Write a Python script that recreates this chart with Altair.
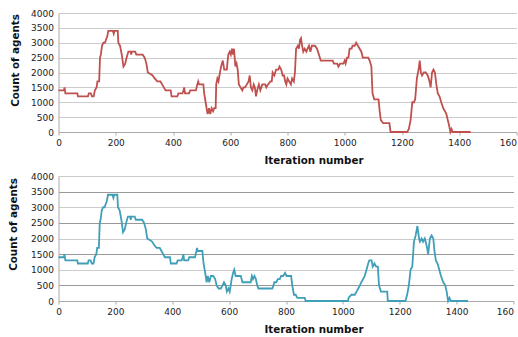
import altair as alt
import pandas as pd

# ---- data ----
top_x = [0, 19, 21, 24, 66, 68, 103, 106, 113, 117, 123, 127, 133, 136, 142, 145, 148, 152, 157, 162,
         166, 170, 174, 190, 193, 196, 207, 209, 215, 221, 227, 233, 238, 244, 252, 254, 256, 268, 272, 294,
         301, 307, 312, 321, 329, 336, 345, 356, 362, 368, 374, 392, 395, 415, 419, 433, 437, 439, 442, 456,
         460, 480, 485, 488, 491, 506, 509, 514, 519, 521, 526, 530, 535, 540, 544, 549, 551, 555, 559, 564,
         568, 574, 579, 588, 593, 598, 602, 606, 610, 613, 618, 622, 626, 630, 636, 642, 646, 652, 658, 664,
         668, 672, 677, 682, 686, 690, 694, 700, 705, 712, 722, 726, 732, 740, 745, 748, 754, 760, 768, 772,
         778, 783, 788, 792, 796, 800, 806, 812, 816, 822, 826, 830, 836, 840, 844, 847, 851, 855, 860, 866,
         870, 875, 880, 885, 896, 903, 910, 916, 958, 962, 974, 978, 984, 995, 1000, 1003, 1008, 1013, 1017, 1024,
         1027, 1035, 1040, 1046, 1052, 1058, 1063, 1082, 1087, 1093, 1097, 1100, 1103, 1118, 1122, 1126, 1134, 1156, 1160, 1218,
         1224, 1230, 1236, 1242, 1246, 1252, 1258, 1262, 1266, 1270, 1276, 1283, 1290, 1296, 1300, 1305, 1310, 1315, 1320, 1325,
         1331, 1337, 1344, 1350, 1355, 1360, 1365, 1369, 1373, 1377, 1440]
top_y = [1400, 1400, 1500, 1300, 1300, 1200, 1200, 1300, 1300, 1200, 1200, 1400, 1500, 1700, 1700, 2500, 2600, 2900, 3000, 3000,
         3100, 3200, 3400, 3400, 3300, 3400, 3400, 3000, 2900, 2600, 2200, 2300, 2500, 2700, 2700, 2600, 2700, 2700, 2600, 2600,
         2500, 2300, 2000, 1950, 1900, 1800, 1700, 1700, 1600, 1500, 1400, 1400, 1200, 1200, 1300, 1300, 1400, 1500, 1300, 1300,
         1400, 1400, 1600, 1700, 1600, 1600, 1300, 1000, 700, 600, 800, 600, 800, 700, 800, 800, 1600, 1800, 1700, 2000,
         2200, 2400, 2100, 2100, 2600, 2700, 2600, 2800, 2600, 2800, 2200, 2300, 2100, 1600, 1500, 1400, 1500, 1500, 1600, 1700,
         1900, 1500, 1400, 1600, 1500, 1200, 1400, 1600, 1400, 1600, 1600, 1500, 1600, 1700, 1700, 2000, 1900, 2100, 2100, 2200,
         2100, 1900, 1900, 1700, 1600, 1800, 1700, 1600, 1800, 1700, 2000, 2800, 2900, 2800, 3100, 3150, 2900, 2700, 2800, 2700,
         2800, 2900, 2700, 2900, 2900, 2800, 2600, 2400, 2400, 2300, 2300, 2200, 2300, 2300, 2400, 2300, 2500, 2500, 2800, 2800,
         2900, 2900, 3000, 2900, 2800, 2700, 2500, 2500, 2400, 2200, 1300, 1200, 1100, 1100, 700, 400, 300, 300, 0, 0,
         100, 400, 1000, 1000, 1100, 1800, 2100, 2400, 2000, 1900, 2000, 2000, 1900, 1700, 1500, 2000, 2100, 2000, 1600, 1300,
         1200, 1000, 800, 700, 600, 400, 200, 0, 100, 0, 0]

bot_x = [0, 19, 21, 24, 66, 68, 103, 106, 113, 117, 123, 127, 133, 136, 142, 145, 148, 152, 157, 162,
         166, 170, 174, 190, 193, 196, 207, 209, 215, 221, 227, 233, 238, 244, 252, 254, 256, 268, 272, 294,
         301, 307, 312, 321, 329, 336, 345, 356, 362, 368, 374, 392, 395, 415, 419, 433, 437, 439, 442, 456,
         460, 480, 485, 487, 490, 506, 510, 516, 521, 525, 530, 536, 544, 551, 556, 563, 571, 577, 582, 588,
         592, 598, 602, 609, 614, 618, 623, 641, 647, 676, 680, 684, 689, 694, 699, 703, 752, 756, 759, 766,
         771, 778, 783, 790, 797, 802, 818, 822, 828, 834, 840, 866, 869, 1018, 1020, 1030, 1042, 1048, 1054, 1060,
         1065, 1071, 1077, 1083, 1089, 1093, 1101, 1105, 1111, 1117, 1123, 1127, 1134, 1156, 1158, 1220, 1226, 1232, 1238, 1244,
         1250, 1256, 1262, 1268, 1271, 1277, 1282, 1288, 1294, 1300, 1306, 1312, 1318, 1322, 1327, 1333, 1339, 1345, 1353, 1360,
         1365, 1370, 1375, 1380, 1440]
bot_y = [1400, 1400, 1500, 1300, 1300, 1200, 1200, 1300, 1300, 1200, 1200, 1400, 1500, 1700, 1700, 2500, 2600, 2900, 3000, 3000,
         3100, 3200, 3400, 3400, 3300, 3400, 3400, 3000, 2900, 2600, 2200, 2300, 2500, 2700, 2700, 2600, 2700, 2700, 2600, 2600,
         2500, 2300, 2000, 1950, 1900, 1800, 1700, 1700, 1600, 1500, 1400, 1400, 1200, 1200, 1300, 1300, 1400, 1500, 1300, 1300,
         1400, 1400, 1600, 1700, 1600, 1600, 1200, 900, 600, 800, 600, 800, 800, 700, 500, 400, 400, 500, 600, 500,
         300, 400, 300, 700, 900, 1000, 800, 800, 600, 600, 800, 700, 800, 700, 500, 400, 400, 500, 600, 600,
         700, 700, 800, 800, 900, 800, 800, 500, 200, 200, 100, 100, 0, 0, 100, 200, 200, 300, 400, 500,
         600, 700, 800, 1000, 1200, 1300, 1300, 1100, 1200, 1100, 1100, 500, 300, 300, 0, 0, 200, 500, 1000, 1100,
         1900, 2100, 2400, 2000, 1900, 2000, 1900, 2000, 1800, 1500, 2000, 2100, 2000, 1600, 1300, 1200, 1000, 800, 600, 500,
         300, 0, 100, 0, 0]

x_ticks = [0, 200, 400, 600, 800, 1000, 1200, 1400, 1600]
y_ticks = [0, 500, 1000, 1500, 2000, 2500, 3000, 3500, 4000]

FONT = "DejaVu Sans"

# the last x label is cut by the page edge in the reference
X_LABEL = "datum.value == 1600 ? '160' : datum.label"
X_ALIGN = "datum.value == 1600 ? 'right' : 'center'"


def panel(xs, ys, color, w, h, grid_expr, title_y, y_title_pad):
    df = pd.DataFrame({"iteration": xs, "agents": ys})
    return alt.Chart(df).mark_line(color=color, strokeWidth=1.8).encode(
        x=alt.X("iteration:Q",
                scale=alt.Scale(domain=[0, 1600], nice=False),
                axis=alt.Axis(values=x_ticks, format="d", title="Iteration number", grid=False,
                              tickSize=3, tickColor="#aaaaaa", domainColor="#aaaaaa",
                              labelExpr=X_LABEL, labelAlign=alt.ExprRef(X_ALIGN),
                              labelPadding=3, titlePadding=8, titleX=255)),
        y=alt.Y("agents:Q",
                scale=alt.Scale(domain=[0, 4000], nice=False),
                axis=alt.Axis(values=y_ticks, format="d", title="Count of agents", grid=True,
                              gridColor=alt.ExprRef(grid_expr), ticks=False,
                              domainColor="#aaaaaa", labelPadding=5, titlePadding=y_title_pad,
                              titleY=title_y)),
    ).properties(width=w, height=h)


top = panel(top_x, top_y, "#c0504d", 458, 119, "'#cccccc'", 47, 10)
bottom = panel(bot_x, bot_y, "#3f9fb8",
               455, 125, "datum.value % 1000 == 500 ? '#999999' : '#cccccc'", 48, 12)

chart = alt.vconcat(top, bottom, spacing=6).properties(
    padding={"left": 8.5, "top": 9, "right": 0, "bottom": 0}
).configure_view(stroke=None).configure_axis(
    labelFont=FONT, titleFont=FONT, labelFontSize=9, titleFontSize=10.3,
    titleFontWeight="bold", labelColor="#222222", titleColor="#111111"
)

chart.save("out.html", embed_options={"renderer": "svg", "actions": False})
